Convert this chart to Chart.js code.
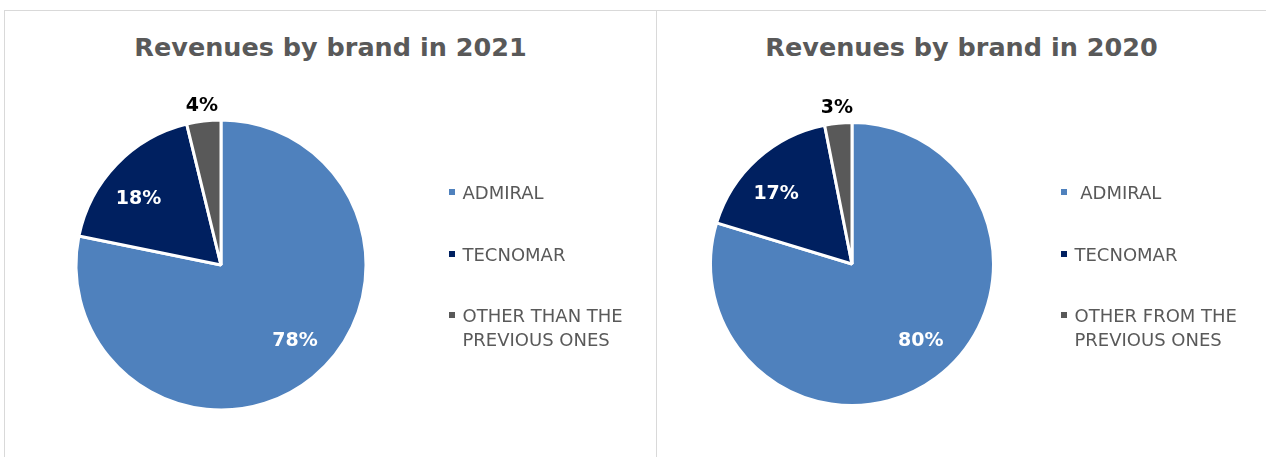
<!DOCTYPE html>
<html>
<head>
<meta charset="utf-8">
<script src="https://cdn.jsdelivr.net/npm/chart.js@4"></script>
<style>
    body { margin: 0; background: #fff; }
    #page { position: relative; width: 1266px; height: 457px; overflow: hidden; font-family: "DejaVu Sans", Verdana, sans-serif; }
    .panel { position: absolute; top: 10px; height: 460px; border-top: 1px solid #d9d9d9; border-left: 1px solid #d9d9d9; box-sizing: border-box; }
    .title { position: absolute; top: 32px; text-align: center; font-weight: bold; font-size: 25.5px; line-height: 30px; color: #595959; }
    canvas { position: absolute; top: 11px; }
    .legend { position: absolute; top: 181px; }
    .item { position: relative; margin-bottom: 38px; font-size: 18px; line-height: 23.5px; color: #595959; }
    .item .box { position: absolute; left: 0; top: 8.4px; width: 6px; height: 6px; }
    .item .txt { margin-left: 13.5px; width: 185px; white-space: pre-wrap; }
</style>
</head>
<body>
<div id="page">
    <div class="panel" style="left:4px; width:653px;"></div>
    <div class="panel" style="left:656px; width:615px;"></div>

    <div class="title" id="title21" style="left:5px; width:651px;"></div>
    <div class="title" id="title20" style="left:657px; width:609px;"></div>

    <canvas id="pie21" width="650" height="446" style="left:6px; width:650px; height:446px;"></canvas>
    <canvas id="pie20" width="609" height="446" style="left:657px; width:609px; height:446px;"></canvas>

    <div class="legend" id="legend21" style="left:449px;"></div>
    <div class="legend" id="legend20" style="left:1061px;"></div>
</div>

<script>
const title2021 = 'Revenues by brand in 2021';
const title2020 = 'Revenues by brand in 2020';
const categories2021 = ['ADMIRAL', 'TECNOMAR', 'OTHER THAN THE PREVIOUS ONES'];
const categories2020 = [' ADMIRAL', 'TECNOMAR', 'OTHER FROM THE PREVIOUS ONES'];
const values2021 = [78.2, 18.0, 3.8];
const values2020 = [79.7, 17.2, 3.1];

const colors = ['#4F81BD', '#002060', '#595959'];
const labelOutside = [false, false, true];

// percentage labels, placed along each slice's middle angle (inside ones turned a little, like Excel's best fit)
const pieLabels = {
    id: 'pieLabels',
    afterDatasetsDraw(chart) {
        const ctx = chart.ctx;
        const meta = chart.getDatasetMeta(0);
        const data = chart.data.datasets[0].data;
        const total = data.reduce((a, b) => a + b, 0);
        ctx.save();
        ctx.font = 'bold 19px "DejaVu Sans", Verdana, sans-serif';
        ctx.textAlign = 'center';
        ctx.textBaseline = 'middle';
        meta.data.forEach((arc, i) => {
            const p = arc.getProps(['x', 'y', 'startAngle', 'endAngle', 'outerRadius'], true);
            const out = labelOutside[i];
            const mid = (p.startAngle + p.endAngle) / 2 - (out ? 0 : 0.09);
            const r = p.outerRadius * (out ? 1.105 : 0.73);
            ctx.fillStyle = out ? '#000000' : '#ffffff';
            ctx.fillText(Math.round(data[i] / total * 100) + '%', p.x + Math.cos(mid) * r, p.y + Math.sin(mid) * r);
        });
        ctx.restore();
    }
};

function makePie(id, labels, values, radius, padding) {
    new Chart(document.getElementById(id), {
        type: 'pie',
        data: {
            labels: labels,
            datasets: [{ data: values, backgroundColor: colors, borderColor: '#ffffff', borderWidth: 3 }]
        },
        options: {
            responsive: false,
            animation: false,
            radius: radius,
            layout: { padding: padding },
            plugins: { legend: { display: false }, title: { display: false }, tooltip: { enabled: false } }
        },
        plugins: [pieLabels]
    });
}

function makeLegend(id, labels) {
    const el = document.getElementById(id);
    labels.forEach((label, i) => {
        const item = document.createElement('div');
        item.className = 'item';
        item.innerHTML = '<div class="box" style="background:' + colors[i] + '"></div><div class="txt"></div>';
        item.querySelector('.txt').textContent = label;
        el.appendChild(item);
    });
}

document.addEventListener('DOMContentLoaded', () => {
    document.getElementById('title21').textContent = title2021;
    document.getElementById('title20').textContent = title2020;

    makePie('pie21', categories2021, values2021, 145, { left: 65, right: 285, top: 104, bottom: 42 });
    makePie('pie20', categories2020, values2020, 141.5, { left: 45, right: 264, top: 103, bottom: 43 });

    makeLegend('legend21', categories2021);
    makeLegend('legend20', categories2020);
});
</script>
</body>
</html>
